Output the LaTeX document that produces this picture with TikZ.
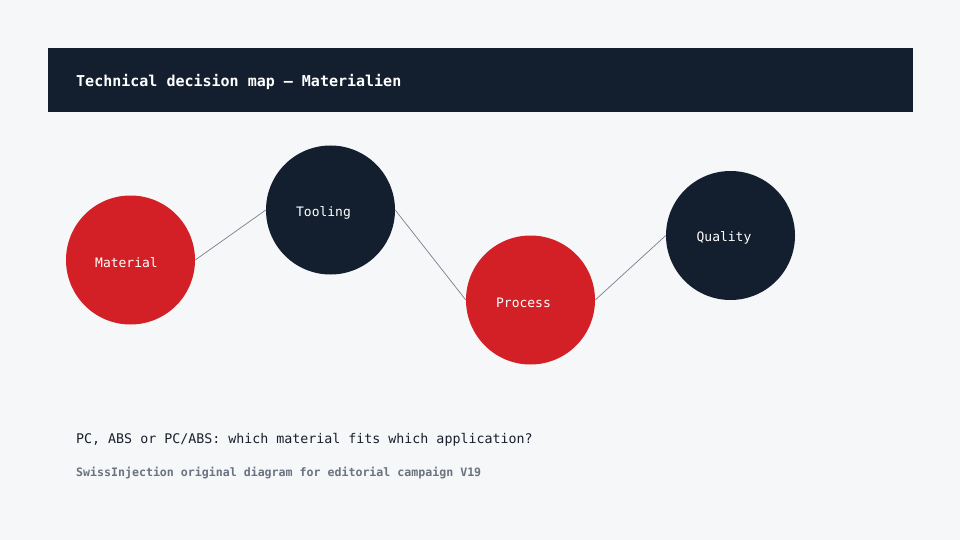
\documentclass[tikz,border=0pt]{standalone}
\usepackage{fontspec}
\setmainfont{DejaVu Sans Mono}
\definecolor{bgc}{HTML}{F5F7F9}
\definecolor{navy}{HTML}{131F2E}
\definecolor{redc}{HTML}{D32027}
\definecolor{linec}{HTML}{7A808A}
\definecolor{footc}{HTML}{6B7280}
\definecolor{textc}{HTML}{1A1F2B}
\tikzset{
  bubble/.style={circle, minimum size=129pt, inner sep=0pt, draw=none},
  redbub/.style={bubble, fill=redc},
  navybub/.style={bubble, fill=navy},
  blabel/.style={text=white, font=\fontsize{13}{15}\selectfont, inner sep=0pt},
  link/.style={draw=linec, line width=0.7pt},
}
\begin{document}
\begin{tikzpicture}[x=1pt,y=-1pt]
\fill[bgc] (0,0) rectangle (960,540);
\useasboundingbox (0,0) rectangle (960,540);
\node[fill=navy, minimum width=865pt, minimum height=64pt, inner sep=0pt, anchor=north west] (header) at (48,48) {};
\node[anchor=west, inner sep=0pt, text=white, font=\fontsize{15}{18}\selectfont\bfseries] (title) at (76,81.5) {Technical decision map — Materialien};

\node[redbub] (mat) at (130.5,260) {};
\node[navybub] (tool) at (330.5,210) {};
\node[redbub] (proc) at (530.5,300) {};
\node[navybub] (qual) at (730.5,235.5) {};

\node[blabel] (matl) at (126.5,262.5) {Material};
\node[blabel] (tooll) at (323.5,212.5) {Tooling};
\node[blabel] (procl) at (523.5,302.5) {Process};
\node[blabel] (quall) at (724,237.5) {Quality};

\draw[link] (mat.east) -- (tool.west);
\draw[link] (tool.east) -- (proc.west);
\draw[link] (proc.east) -- (qual.west);

\node[anchor=west, inner sep=0pt, text=textc, font=\fontsize{13.3}{16}\selectfont] (question) at (76,439.5) {PC, ABS or PC/ABS: which material fits which application?};
\node[anchor=west, inner sep=0pt, text=footc, font=\fontsize{11.6}{14}\selectfont\bfseries] (footer) at (76,472.5) {SwissInjection original diagram for editorial campaign V19};
\end{tikzpicture}
\end{document}
